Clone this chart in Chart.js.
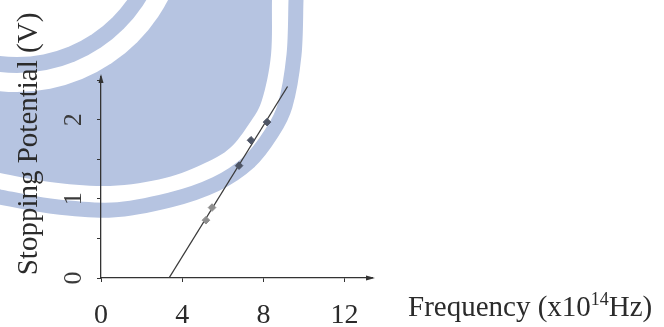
<!DOCTYPE html>
<html><head><meta charset="utf-8">
<script src="https://cdn.jsdelivr.net/npm/chart.js@4/dist/chart.umd.min.js"></script>
<style>
html,body{margin:0;padding:0;background:#fff;}
#wrap{position:relative;width:664px;height:327px;overflow:hidden;background:#fff;}
#wm{position:absolute;left:0;top:0;}
#c{position:absolute;left:0;top:0;}
</style></head><body>
<div id="wrap">
<svg id="wm" width="664" height="327" xmlns="http://www.w3.org/2000/svg">
  <path id="bandB" fill="none" stroke="#b6c4e1" stroke-width="15"/>
  <path id="blob" fill="#b6c4e1"/>
  <circle cx="17" cy="-78" r="170" fill="#fff"/>
  <circle cx="17" cy="-78" r="151" fill="#b6c4e1"/>
  <circle cx="17" cy="-78" r="135" fill="#fff"/>
</svg>
<canvas id="c" width="664" height="327"></canvas>
</div>
<script>
// ---- data ----
const freq   = [5.17, 5.47, 6.80, 7.39, 8.18];   // x10^14 Hz
const stopV  = [0.73, 0.89, 1.42, 1.74, 1.97];   // V
const fitFreq = [3.35, 9.19];
const fitV    = [0, 2.42];
const xTickLabels = [0, 4, 8, 12];
const yTickLabels = [0, 1, 2];
const xTitleMain = 'Frequency (x10';
const xTitleSup = '14';
const xTitleEnd = 'Hz)';
const yTitle = 'Stopping Potential (V)';

// ---- background watermark (decoration only, smooth curve through outline points) ----
function smoothPath(p) {
  let d = 'M ' + p[0][0] + ' ' + p[0][1];
  for (let i = 0; i < p.length - 1; i++) {
    const p0 = p[Math.max(0, i - 1)], p1 = p[i], p2 = p[i + 1], p3 = p[Math.min(p.length - 1, i + 2)];
    const c1 = [p1[0] + (p2[0] - p0[0]) / 6, p1[1] + (p2[1] - p0[1]) / 6];
    const c2 = [p2[0] - (p3[0] - p1[0]) / 6, p2[1] - (p3[1] - p1[1]) / 6];
    d += ' C ' + c1.join(' ') + ', ' + c2.join(' ') + ', ' + p2.join(' ');
  }
  return d;
}
const blobEdge = [[273,-20],[272,0],[271,55],[262,100],[249,124],[230,148],[205,163],[165,178],[110,186],[50,182],[0,173],[-20,168]];
const bandEdge = [[297,-20],[296,0],[294,55],[285,106],[271,134],[249,162],[216,184],[170,200],[112,210],[50,206],[0,197],[-20,193]];
document.getElementById('blob').setAttribute('d', 'M -20 -20 L 273 -20 ' + smoothPath(blobEdge).replace(/^M/, 'L') + ' Z');
document.getElementById('bandB').setAttribute('d', smoothPath(bandEdge));

const SERIF = "'Liberation Serif','Times New Roman',serif";
Chart.defaults.font.family = SERIF;

const pts = freq.map((f, i) => ({x: f, y: stopV[i]}));
const fit = fitFreq.map((f, i) => ({x: f, y: fitV[i]}));

const deco = {
  id: 'deco',
  afterDraw(chart) {
    const ctx = chart.ctx;
    const xs = chart.scales.x, ys = chart.scales.y;
    const ax = xs.getPixelForValue(0), ay = ys.getPixelForValue(0);
    const top = chart.chartArea.top, right = chart.chartArea.right;
    ctx.save();
    ctx.fillStyle = '#333';
    // y arrow
    ctx.beginPath();
    ctx.moveTo(ax, top - 3); ctx.lineTo(ax - 2.5, top + 6); ctx.lineTo(ax + 2.5, top + 6); ctx.closePath(); ctx.fill();
    // x arrow
    ctx.beginPath();
    ctx.moveTo(right + 3, ay); ctx.lineTo(right - 6, ay - 2.5); ctx.lineTo(right - 6, ay + 2.5); ctx.closePath(); ctx.fill();
    // x title with superscript
    ctx.fillStyle = '#2b2b2b';
    ctx.textBaseline = 'alphabetic';
    ctx.textAlign = 'left';
    let x = 408, base = 316;
    ctx.font = '29px ' + SERIF;
    ctx.fillText(xTitleMain, x, base);
    x += ctx.measureText(xTitleMain).width;
    ctx.font = '18px ' + SERIF;
    ctx.fillText(xTitleSup, x, base - 11);
    x += ctx.measureText(xTitleSup).width;
    ctx.font = '29px ' + SERIF;
    ctx.fillText(xTitleEnd, x, base);
    // y title
    ctx.translate(29, 144);
    ctx.rotate(-Math.PI / 2);
    ctx.textAlign = 'center';
    ctx.textBaseline = 'middle';
    ctx.font = '29px ' + SERIF;
    ctx.fillText(yTitle, 0, 0);
    ctx.restore();
  }
};

new Chart(document.getElementById('c'), {
  type: 'scatter',
  data: {
    datasets: [
      {
        type: 'line', data: fit, showLine: true, pointRadius: 0,
        borderColor: '#3a3a3a', borderWidth: 1.3, fill: false, order: 2
      },
      {
        data: pts, pointStyle: 'rectRot', pointRadius: 3.8,
        backgroundColor: c => c.dataIndex < 2 ? '#8e8e8e' : '#4e5565',
        borderColor: c => c.dataIndex < 2 ? '#8e8e8e' : '#4e5565',
        borderWidth: 1, order: 1
      }
    ]
  },
  options: {
    responsive: false, animation: false,
    layout: {padding: {left: 0, top: 77, right: 292, bottom: 0}},
    plugins: {legend: {display: false}, tooltip: {enabled: false}},
    scales: {
      x: {
        type: 'linear', min: 0, max: 13.35,
        afterFit: s => { s.height = 49; },
        border: {display: true, color: '#333', width: 1.3},
        grid: {display: true, drawOnChartArea: false, drawTicks: true, tickLength: 4, color: '#333'},
        ticks: {
          stepSize: 4, includeBounds: false, autoSkip: false, maxRotation: 0,
          padding: 17, color: '#2b2b2b', font: {size: 28},
          callback: v => xTickLabels.includes(v) ? String(v) : ''
        }
      },
      y: {
        type: 'linear', min: 0, max: 2.54,
        afterFit: s => { s.width = 101; },
        border: {display: true, color: '#333', width: 1.3},
        grid: {display: true, drawOnChartArea: false, drawTicks: true, tickLength: 4, color: '#333'},
        ticks: {
          stepSize: 0.5, includeBounds: false, autoSkip: false,
          minRotation: 90, maxRotation: 90, crossAlign: 'center',
          padding: 16, color: '#3a3a3a', font: {size: 26},
          callback: v => yTickLabels.includes(v) ? String(v) : ''
        }
      }
    }
  },
  plugins: [deco]
});
</script>
</body></html>
